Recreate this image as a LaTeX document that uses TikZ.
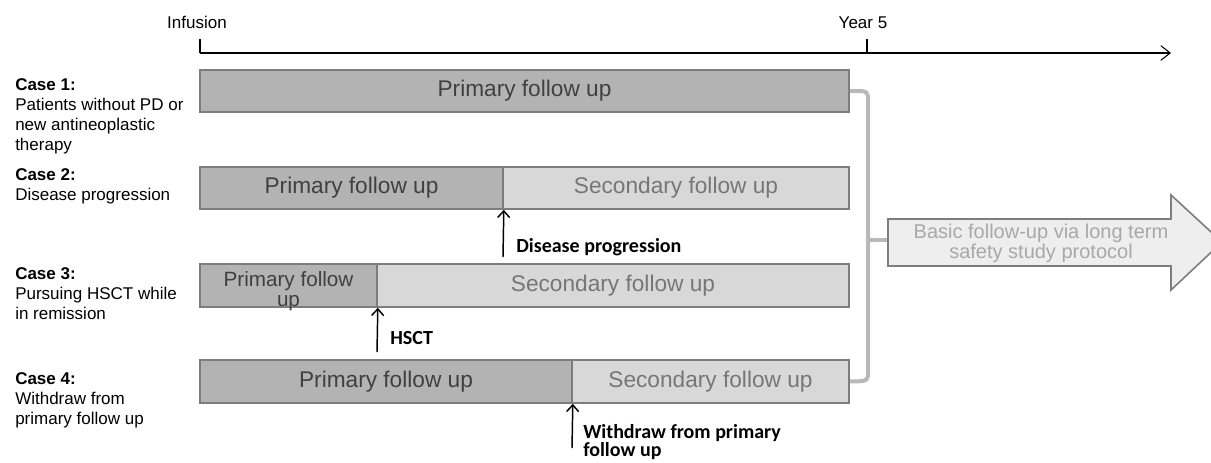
\documentclass[tikz,border=0pt]{standalone}
\usepackage{fontspec}
\setmainfont{Liberation Sans}
\newfontfamily\calib{Carlito}
\usetikzlibrary{fit,arrows.meta}

\definecolor{primfill}{RGB}{179,179,179}
\definecolor{secfill}{RGB}{216,216,216}
\definecolor{barline}{RGB}{125,125,125}
\definecolor{primtext}{RGB}{64,64,64}
\definecolor{sectext}{RGB}{118,118,118}
\definecolor{brackline}{RGB}{185,185,185}
\definecolor{arrfill}{RGB}{238,238,238}
\definecolor{arrtext}{RGB}{168,168,168}

\begin{document}
\begin{tikzpicture}[x=0.75pt,y=-0.75pt]
	\tikzstyle{every node}+=[inner sep=0pt]
	\tikzstyle{primbar}=[draw=barline,line width=1.2pt,fill=primfill]
	\tikzstyle{secbar}=[draw=barline,line width=1.2pt,fill=secfill]
	\tikzstyle{primtxt}=[text=primtext,font=\fontsize{17}{19}\selectfont]
	\tikzstyle{sectxt}=[text=sectext,font=\fontsize{17}{19}\selectfont]
	\tikzstyle{caselabel}=[anchor=north west,align=left,font=\fontsize{12.75}{15}\selectfont]
	\tikzstyle{eventlabel}=[anchor=north west,align=left,font=\calib\bfseries\fontsize{15}{14}\selectfont]
	\tikzstyle{eventarrow}=[line width=1.1pt,-{Straight Barb[length=5pt,width=9pt]}]
	\tikzstyle{bracket}=[brackline,line width=3pt,rounded corners=4pt]
	\useasboundingbox (0,0) rectangle (1211,462);
	\clip (0,0) rectangle (1211,462);
	% time axis
	\coordinate (t0) at (200,53);
	\coordinate (t5) at (867,53);
	\coordinate (tend) at (1171,53);
	\draw [line width=0.8pt,-{Straight Barb[length=7pt,width=11pt]}] (t0) -- (tend);
	\draw [line width=1.6pt] (t0) -- ++(0,-14);
	\draw [line width=1.6pt] (t5) -- ++(0,-14);
	\node [font=\fontsize{12.75}{15}\selectfont] (infus) at (197,22) {Infusion};
	\node [font=\fontsize{12.75}{15}\selectfont] (yrfive) at (863,23) {Year 5};
	% case labels
	\node [caselabel] (case1) at (15,78) {\textbf{Case 1:}\\Patients without PD or\\new antineoplastic\\therapy};
	\node [caselabel] (case2) at (15,168) {\textbf{Case 2:}\\Disease progression};
	\node [caselabel] (case3) at (15,267) {\textbf{Case 3:}\\Pursuing HSCT while\\in remission};
	\node [caselabel] (case4) at (15,372) {\textbf{Case 4:}\\Withdraw from\\primary follow up};
	% bars
	\node [primbar,fit={(200,70) (849,112)}] (c1p) {};
	\node [primbar,fit={(200,167) (503,209)}] (c2p) {};
	\node [secbar,fit={(503,167) (849,209)}] (c2s) {};
	\node [primbar,fit={(200,264) (377,307)}] (c3p) {};
	\node [secbar,fit={(377,264) (849,307)}] (c3s) {};
	\node [primbar,fit={(200,360) (572,403)}] (c4p) {};
	\node [secbar,fit={(572,360) (849,403)}] (c4s) {};
	\node [primtxt] (c1pt) at (c1p.center) {Primary follow up};
	\node [primtxt] (c2pt) at (c2p.center) {Primary follow up};
	\node [sectxt] (c2st) at (c2s.center) {Secondary follow up};
	\node [primtxt,align=center,font=\fontsize{15.5}{15}\selectfont] (c3pt) at ([yshift=-4]c3p.center) {Primary follow\\up};
	\node [sectxt] (c3st) at (c3s.center) {Secondary follow up};
	\node [primtxt] (c4pt) at (c4p.center) {Primary follow up};
	\node [sectxt] (c4st) at (c4s.center) {Secondary follow up};
	% events
	\coordinate (dpbase) at (503,257);
	\coordinate (hsbase) at (377,352);
	\coordinate (wdbase) at (572,448);
	\draw [eventarrow] (dpbase) -- (c2p.south east);
	\draw [eventarrow] (hsbase) -- (c3p.south east);
	\draw [eventarrow] (wdbase) -- (c4p.south east);
	\node [eventlabel] (dplab) at (516,238) {Disease progression};
	\node [eventlabel] (hslab) at (390,331) {HSCT};
	\node [eventlabel] (wdlab) at (583,424) {Withdraw from primary\\follow up};
	% bracket and long term arrow
	\coordinate (arrtail) at (888,240);
	\draw [bracket] (c1p.east) -- (868,91) -- (868,381) -- (c4s.east);
	\draw [bracket,rounded corners=0pt] (868,240) -- (arrtail);
	\draw [draw=barline,line width=1.2pt,fill=arrfill] (arrtail) |- (1171,219) -- (1171,195) -- (1222,242) -- (1171,290) -- (1171,266) -| (arrtail);
	\node [align=center,text=arrtext,font=\fontsize{15}{13}\selectfont] (bsfu) at (1041,243) {Basic follow-up via long term\\safety study protocol};
\end{tikzpicture}
\end{document}
